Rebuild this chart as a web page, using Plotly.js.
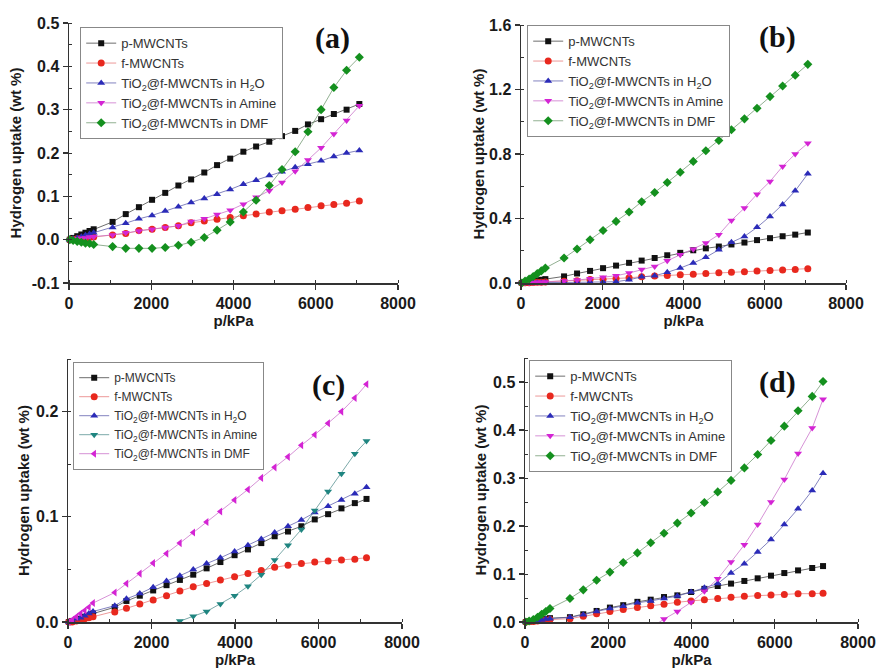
<!DOCTYPE html>
<html>
<head>
<meta charset="utf-8">
<script src="https://cdn.plot.ly/plotly-3.0.1.min.js"></script>
<style>html,body{margin:0;padding:0;background:#fff;}#chart{width:880px;height:671px;}</style>
</head>
<body>
<div id="chart"></div>
<script>
// ---- data ----
var seriesNames = ['p-MWCNTs', 'f-MWCNTs', 'TiO<sub>2</sub>@f-MWCNTs in H<sub>2</sub>O', 'TiO<sub>2</sub>@f-MWCNTs in Amine', 'TiO<sub>2</sub>@f-MWCNTs in DMF'];

var pressureAB = [20,100,200,300,400,500,600,1060,1380,1700,2020,2340,2660,2970,3290,3600,3920,4240,4550,4870,5180,5500,5810,6130,6440,6750,7060];
var pressureC = [20,100,200,300,400,500,600,1120,1400,1720,2040,2360,2680,3000,3320,3650,3990,4310,4630,4950,5270,5590,5910,6230,6550,6870,7150];
var pressureD = [20,100,200,300,400,500,600,1080,1400,1720,2040,2360,2700,3020,3340,3660,3990,4310,4630,4950,5270,5590,5910,6230,6560,6900,7160];

// panel (a)
var aP = [0,0.004,0.008,0.012,0.016,0.020,0.024,0.041,0.059,0.075,0.092,0.108,0.125,0.139,0.155,0.172,0.187,0.203,0.215,0.226,0.239,0.251,0.266,0.278,0.290,0.300,0.313];
var aF = [0,0.001,0.002,0.003,0.004,0.005,0.006,0.011,0.014,0.021,0.024,0.028,0.032,0.039,0.043,0.047,0.051,0.055,0.059,0.064,0.067,0.070,0.074,0.078,0.081,0.084,0.089];
var aH2O = [0,0.002,0.004,0.007,0.010,0.013,0.016,0.028,0.038,0.048,0.056,0.066,0.076,0.086,0.095,0.105,0.116,0.128,0.137,0.148,0.157,0.167,0.174,0.182,0.192,0.200,0.206];
var aAmine = [0,0.001,0.002,0.003,0.004,0.006,0.007,0.011,0.016,0.020,0.024,0.028,0.032,0.042,0.048,0.058,0.068,0.082,0.098,0.113,0.132,0.158,0.184,0.212,0.244,0.275,0.309];
var aDMF = [0,-0.002,-0.004,-0.006,-0.008,-0.009,-0.011,-0.016,-0.020,-0.020,-0.020,-0.018,-0.013,-0.006,0.005,0.022,0.041,0.064,0.091,0.125,0.162,0.203,0.249,0.300,0.351,0.391,0.421];

// panel (b)
var bP = aP;
var bF = aF;
var bH2O = [0,0.001,0.001,0.002,0.002,0.002,0.003,0.003,0.005,0.006,0.006,0.008,0.020,0.038,0.045,0.066,0.093,0.124,0.159,0.206,0.252,0.289,0.345,0.413,0.487,0.572,0.677];
var bAmine = [0,0.001,0.002,0.003,0.004,0.005,0.006,0.012,0.018,0.027,0.035,0.045,0.062,0.083,0.103,0.138,0.175,0.210,0.248,0.300,0.388,0.465,0.551,0.630,0.723,0.800,0.867];
var bDMF = [0,0.012,0.025,0.040,0.058,0.075,0.093,0.155,0.211,0.268,0.326,0.382,0.440,0.504,0.561,0.623,0.687,0.754,0.820,0.884,0.950,1.018,1.084,1.156,1.222,1.288,1.356];

// panel (c)
var cP = [0,0.001,0.002,0.003,0.005,0.006,0.008,0.014,0.020,0.025,0.030,0.035,0.040,0.045,0.051,0.057,0.0635,0.069,0.075,0.0815,0.086,0.091,0.0975,0.1025,0.108,0.113,0.117];
var cF = [0,0,0.001,0.002,0.003,0.004,0.005,0.0095,0.013,0.017,0.021,0.025,0.0295,0.0335,0.0365,0.040,0.043,0.046,0.049,0.052,0.054,0.0555,0.057,0.058,0.059,0.0597,0.061];
var cH2O = [0,0.001,0.003,0.004,0.006,0.008,0.010,0.0155,0.022,0.027,0.033,0.039,0.044,0.050,0.0555,0.061,0.067,0.073,0.079,0.085,0.091,0.097,0.104,0.110,0.116,0.122,0.128];
var cAmine = [null,null,null,null,null,null,null,null,null,null,null,-0.004,0.001,0.0055,0.010,0.017,0.025,0.034,0.045,0.059,0.073,0.088,0.106,0.124,0.141,0.160,0.172];
var cDMF = [0,0.002,0.005,0.008,0.011,0.014,0.018,0.028,0.0365,0.046,0.056,0.065,0.075,0.085,0.095,0.105,0.116,0.126,0.137,0.147,0.157,0.168,0.178,0.189,0.200,0.213,0.226];

// panel (d)
var dP = [0,0.001,0.002,0.003,0.005,0.006,0.008,0.010,0.016,0.023,0.030,0.035,0.042,0.0465,0.052,0.0555,0.0625,0.069,0.075,0.080,0.0855,0.091,0.0965,0.102,0.1075,0.1125,0.1165];
var dF = [0,0.001,0.001,0.002,0.003,0.004,0.005,0.007,0.012,0.017,0.022,0.026,0.030,0.034,0.037,0.041,0.044,0.0465,0.049,0.0515,0.0535,0.055,0.056,0.0575,0.059,0.059,0.060];
var dH2O = [0,0.001,0.002,0.003,0.004,0.006,0.007,0.0097,0.015,0.022,0.028,0.033,0.040,0.044,0.049,0.054,0.0625,0.0715,0.080,0.102,0.1215,0.146,0.172,0.203,0.236,0.274,0.310];
var dAmine = [null,null,null,null,null,null,null,null,null,null,null,null,null,-0.012,0.006,0.022,0.041,0.064,0.090,0.125,0.161,0.203,0.250,0.297,0.351,0.404,0.464];
var dDMF = [0,0.002,0.005,0.010,0.016,0.022,0.028,0.049,0.067,0.087,0.104,0.124,0.144,0.165,0.185,0.206,0.227,0.249,0.271,0.295,0.321,0.349,0.378,0.408,0.440,0.470,0.501];

// tick labels
var xTickVals = [0,2000,4000,6000,8000];
var xTickText = ['0','2000','4000','6000','8000'];
var yTickValsA = [-0.1,0,0.1,0.2,0.3,0.4,0.5];
var yTickTextA = ['-0.1','0.0','0.1','0.2','0.3','0.4','0.5'];
var yTickValsB = [0,0.4,0.8,1.2,1.6];
var yTickTextB = ['0.0','0.4','0.8','1.2','1.6'];
var yTickValsC = [0,0.1,0.2];
var yTickTextC = ['0.0','0.1','0.2'];
var yTickValsD = [0,0.1,0.2,0.3,0.4,0.5];
var yTickTextD = ['0.0','0.1','0.2','0.3','0.4','0.5'];

// ---- styles ----
var C = {black:'#111111', red:'#e8281e', blue:'#2b2bb8', magenta:'#d424d4', green:'#14901e', teal:'#1f8580'};
var L = {black:'rgba(60,60,60,0.75)', red:'rgba(230,110,110,0.7)', blue:'rgba(90,90,170,0.75)', magenta:'rgba(200,110,200,0.75)', green:'rgba(110,150,110,0.75)', teal:'rgba(80,140,140,0.75)'};

function tr(x, y, name, col, sym, size, ax, leg, clip) {
  return {
    x: x, y: y, name: name, type: 'scatter', mode: 'lines+markers',
    xaxis: 'x' + ax, yaxis: 'y' + ax, legend: leg,
    line: {color: L[col], width: 1},
    marker: {color: C[col], symbol: sym, size: size, line: {width: 0}},
    cliponaxis: clip === undefined ? false : clip
  };
}

var traces = [
  tr(pressureAB, aP, seriesNames[0], 'black', 'square', 6, '', 'legend'),
  tr(pressureAB, aF, seriesNames[1], 'red', 'circle', 7, '', 'legend'),
  tr(pressureAB, aH2O, seriesNames[2], 'blue', 'triangle-up', 7, '', 'legend'),
  tr(pressureAB, aAmine, seriesNames[3], 'magenta', 'triangle-down', 7, '', 'legend'),
  tr(pressureAB, aDMF, seriesNames[4], 'green', 'diamond', 7, '', 'legend'),

  tr(pressureAB, bP, seriesNames[0], 'black', 'square', 6, '2', 'legend2'),
  tr(pressureAB, bF, seriesNames[1], 'red', 'circle', 7, '2', 'legend2'),
  tr(pressureAB, bH2O, seriesNames[2], 'blue', 'triangle-up', 7, '2', 'legend2'),
  tr(pressureAB, bAmine, seriesNames[3], 'magenta', 'triangle-down', 7, '2', 'legend2'),
  tr(pressureAB, bDMF, seriesNames[4], 'green', 'diamond', 7, '2', 'legend2'),

  tr(pressureC, cP, seriesNames[0], 'black', 'square', 6, '3', 'legend3'),
  tr(pressureC, cF, seriesNames[1], 'red', 'circle', 7, '3', 'legend3'),
  tr(pressureC, cH2O, seriesNames[2], 'blue', 'triangle-up', 7, '3', 'legend3'),
  tr(pressureC, cAmine, seriesNames[3], 'teal', 'triangle-down', 7, '3', 'legend3', true),
  tr(pressureC, cDMF, seriesNames[4], 'magenta', 'triangle-left', 7, '3', 'legend3'),

  tr(pressureD, dP, seriesNames[0], 'black', 'square', 6, '4', 'legend4'),
  tr(pressureD, dF, seriesNames[1], 'red', 'circle', 7, '4', 'legend4'),
  tr(pressureD, dH2O, seriesNames[2], 'blue', 'triangle-up', 7, '4', 'legend4'),
  tr(pressureD, dAmine, seriesNames[3], 'magenta', 'triangle-down', 7, '4', 'legend4', true),
  tr(pressureD, dDMF, seriesNames[4], 'green', 'diamond', 7, '4', 'legend4')
];

var W = 880, H = 671;
function dx(a, b) { return [a / W, b / W]; }
function dy(top, bot) { return [1 - bot / H, 1 - top / H]; }
function bold(arr) { return arr.map(function (s) { return '<b>' + s + '</b>'; }); }

var tickFont = {family: 'Arial, Liberation Sans, sans-serif', size: 16, color: '#1a1a1a'};
var titleFont = {family: 'Arial, Liberation Sans, sans-serif', size: 15, color: '#1a1a1a', weight: 'bold'};

function xaxis(dom, anchor) {
  return {
    domain: dom, anchor: anchor, range: [0, 8000], tickvals: xTickVals, ticktext: bold(xTickText),
    showline: true, linecolor: '#333', linewidth: 1.5, zeroline: false, showgrid: false,
    ticks: 'outside', ticklen: 5, tickwidth: 1.2, tickcolor: '#333',
    minor: {dtick: 1000, ticks: 'inside', ticklen: 3, tickwidth: 1, tickcolor: '#333', showgrid: false},
    tickfont: tickFont,
    title: {text: 'p/kPa', font: titleFont, standoff: 5}
  };
}
function yaxis(dom, anchor, range, vals, text, minor, standoff) {
  return {
    domain: dom, anchor: anchor, range: range, tickvals: vals, ticktext: bold(text),
    showline: true, linecolor: '#333', linewidth: 1.5, zeroline: false, showgrid: false,
    ticks: 'outside', ticklen: 5, tickwidth: 1.2, tickcolor: '#333',
    minor: {tick0: 0, dtick: minor, ticks: 'inside', ticklen: 3, tickwidth: 1, tickcolor: '#333', showgrid: false},
    tickfont: tickFont,
    title: {text: 'Hydrogen uptake (wt %)', font: titleFont, standoff: standoff}
  };
}

function legendAt(x, y, size) {
  return {
    x: x, y: y, xanchor: 'left', yanchor: 'top', xref: 'paper', yref: 'paper',
    bgcolor: 'rgba(255,255,255,1)', bordercolor: '#888', borderwidth: 1.2,
    font: {family: 'Arial, Liberation Sans, sans-serif', size: size, color: '#333'},
    tracegroupgap: 0, itemwidth: 30
  };
}

function label(text, x, y) {
  return {text: text, x: x / W, y: 1 - y / H, xref: 'paper', yref: 'paper', showarrow: false,
    xanchor: 'center', yanchor: 'middle',
    font: {family: 'Times New Roman, Liberation Serif, serif', size: 30, color: '#111', weight: 'bold'}};
}

var layout = {
  width: W, height: H, margin: {l: 0, r: 0, t: 0, b: 0},
  paper_bgcolor: '#fff', plot_bgcolor: '#fff', showlegend: true,
  xaxis: xaxis(dx(69, 398), 'y'),
  yaxis: yaxis(dy(23, 283), 'x', [-0.1, 0.5], yTickValsA, yTickTextA, 0.05, 6),
  xaxis2: xaxis(dx(521, 846), 'y2'),
  yaxis2: yaxis(dy(25, 283), 'x2', [0, 1.6], yTickValsB, yTickTextB, 0.2, 1),
  xaxis3: xaxis(dx(68, 402), 'y3'),
  yaxis3: yaxis(dy(359, 622), 'x3', [0, 0.25], yTickValsC, yTickTextC, 0.05, 3),
  xaxis4: xaxis(dx(525, 858), 'y4'),
  yaxis4: yaxis(dy(358, 622), 'x4', [0, 0.55], yTickValsD, yTickTextD, 0.05, 3),
  legend: legendAt(80 / W, 1 - 27 / H, 13),
  legend2: legendAt(527 / W, 1 - 25 / H, 13),
  legend3: legendAt(73 / W, 1 - 362 / H, 12),
  legend4: legendAt(529 / W, 1 - 360 / H, 13),
  annotations: [label('(a)', 332, 38), label('(b)', 777, 37), label('(c)', 328, 385), label('(d)', 777, 382)]
};

Plotly.newPlot('chart', traces, layout, {displayModeBar: false, staticPlot: true});
</script>
</body>
</html>
